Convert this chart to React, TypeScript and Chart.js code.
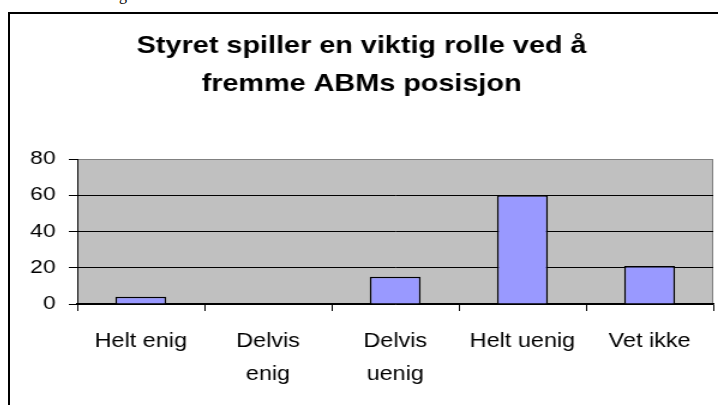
import React, { useEffect, useRef } from 'react';
import { Chart, registerables } from 'chart.js';

Chart.register(...registerables);

const categories: (string | string[])[] = ['Helt enig', ['Delvis', 'enig'], ['Delvis', 'uenig'], 'Helt uenig', 'Vet ikke'];
const values: number[] = [4, 0, 15, 60, 21];
const yMin = 0;
const yMax = 80;
const yStep = 20;
const titleLines: string[] = ['Styret spiller en viktig rolle ved å', 'fremme ABMs posisjon'];

const FONT = "'Liberation Sans', Arial, Helvetica, sans-serif";

const plotBg = {
  id: 'plotBg',
  beforeDraw(chart: any) {
    const { ctx, chartArea } = chart;
    const { left, top, right, bottom } = chartArea;
    ctx.save();
    ctx.fillStyle = '#c0c0c0';
    ctx.fillRect(left, top, right - left, bottom - top);
    ctx.strokeStyle = '#808080';
    ctx.lineWidth = 1;
    ctx.beginPath();
    ctx.moveTo(left, top + 0.5);
    ctx.lineTo(right - 0.5, top + 0.5);
    ctx.lineTo(right - 0.5, bottom);
    ctx.stroke();
    ctx.restore();
  },
};

export default function App() {
  const ref = useRef<HTMLCanvasElement | null>(null);

  useEffect(() => {
    if (!ref.current) return;
    const chart = new Chart(ref.current, {
      type: 'bar',
      data: {
        labels: categories as any,
        datasets: [
          {
            data: values,
            backgroundColor: '#9999ff',
            borderColor: '#000000',
            borderWidth: 1.5,
            categoryPercentage: 1,
            barPercentage: 0.4,
          },
        ],
      },
      options: {
        animation: false,
        responsive: false,
        maintainAspectRatio: false,
        layout: { padding: { left: 0, right: 4, top: 0, bottom: 0 } },
        plugins: {
          legend: { display: false },
          tooltip: { enabled: false },
          title: {
            display: true,
            text: titleLines,
            color: '#000',
            font: { family: FONT, size: 24, weight: 'bold', lineHeight: 38 / 24 },
            padding: { top: 13, bottom: 56 },
          },
        },
        scales: {
          x: {
            offset: true,
            grid: {
              display: true,
              drawOnChartArea: false,
              drawTicks: true,
              tickLength: 7,
              tickColor: '#000',
              offset: true,
            },
            border: { display: true, color: '#000', width: 1.5 },
            ticks: {
              color: '#000',
              padding: 14,
              maxRotation: 0,
              autoSkip: false,
              font: { family: FONT, size: 19.5, lineHeight: 33 / 19.5 },
            },
          },
          y: {
            min: yMin,
            max: yMax,
            afterFit(scale: any) {
              scale.width = 56;
            },
            grid: {
              color: (c: any) => (c.tick && c.tick.value === yMax ? '#808080' : '#000'),
              tickColor: '#000',
              tickLength: 7,
              lineWidth: 1,
            },
            border: { display: true, color: '#000', width: 1 },
            ticks: {
              stepSize: yStep,
              color: '#000',
              padding: 11,
              font: { family: FONT, size: 19 },
            },
          },
        },
      },
      plugins: [plotBg],
    });
    return () => chart.destroy();
  }, []);

  return (
    <div style={{ position: 'absolute', left: 0, top: 0, width: 718, height: 405, overflow: 'hidden', background: '#fff' }}>
      <span
        style={{
          position: 'absolute',
          left: 119,
          top: -13,
          fontFamily: "'Liberation Serif', 'Times New Roman', serif",
          fontSize: 16,
          lineHeight: '16px',
          color: '#000',
        }}
      >
        g
      </span>
      <div
        style={{
          position: 'absolute',
          left: 8,
          top: 12,
          width: 720,
          height: 400,
          borderTop: '2px solid #000',
          borderLeft: '2px solid #000',
          boxSizing: 'border-box',
        }}
      />
      <div
        style={{
          position: 'absolute',
          left: 10,
          top: 14,
          width: 590,
          height: 391,
          transform: 'scaleX(1.2)',
          transformOrigin: '0 0',
        }}
      >
        <canvas ref={ref} width={590} height={391} />
      </div>
    </div>
  );
}
